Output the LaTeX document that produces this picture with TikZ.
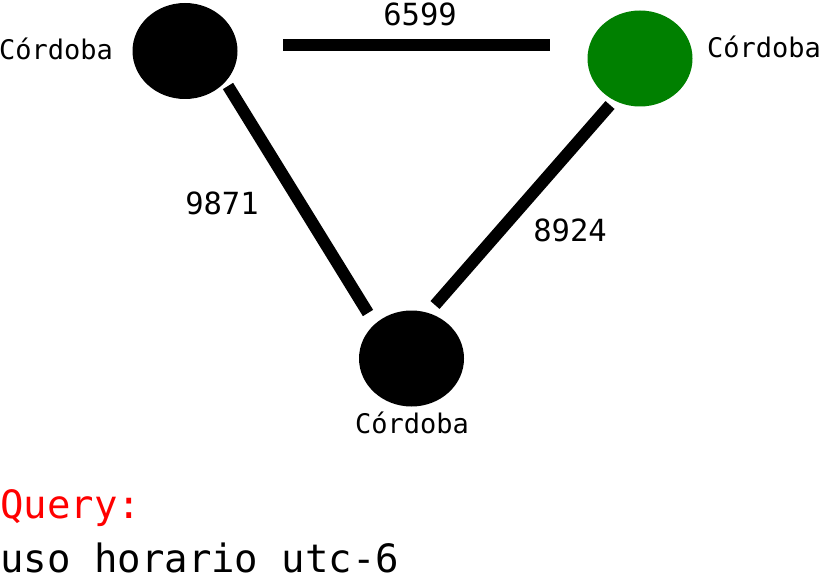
\documentclass[tikz,border=0pt]{standalone}
\usepackage{fontspec}
\setmainfont{DejaVu Sans Mono}
\definecolor{nodegreen}{RGB}{0,128,0}
\tikzset{
  city/.style={ellipse, fill=black, minimum width=105pt, minimum height=96pt, inner sep=0pt},
  road/.style={line width=12pt, black},
  cityname/.style={font=\fontsize{27}{27}\selectfont, inner sep=0pt},
  dist/.style={font=\fontsize{30.5}{30.5}\selectfont, inner sep=0pt},
  query/.style={font=\fontsize{39}{39}\selectfont, inner sep=0pt, anchor=base west}
}
\usetikzlibrary{shapes.geometric}
\begin{document}
\begin{tikzpicture}[x=1pt,y=-1pt]
\useasboundingbox (0,0) rectangle (821,583);
\node[city] (a) at (185,51) {};
\node[city, fill=nodegreen] (b) at (640,58.5) {};
\node[city] (c) at (411.5,358.5) {};
\node[cityname] (la) at (56,49) {Córdoba};
\node[cityname] (lb) at (764,47) {Córdoba};
\node[cityname] (lc) at (412,423) {Córdoba};
\coordinate (ab1) at (283,45);
\coordinate (ab2) at (550,45);
\coordinate (ac1) at (228,86);
\coordinate (ac2) at (368,313);
\coordinate (bc1) at (610,105);
\coordinate (bc2) at (435,305);
\draw[road] (ab1) -- (ab2);
\draw[road] (ac1) -- (ac2);
\draw[road] (bc1) -- (bc2);
\node[dist] (dab) at (420,14) {6599};
\node[dist] (dac) at (222,203) {9871};
\node[dist] (dbc) at (570,230) {8924};
\node[query, text=red] (q) at (0,518) {Query:};
\node[query] (u) at (0,572) {uso horario utc-6};
\end{tikzpicture}
\end{document}
